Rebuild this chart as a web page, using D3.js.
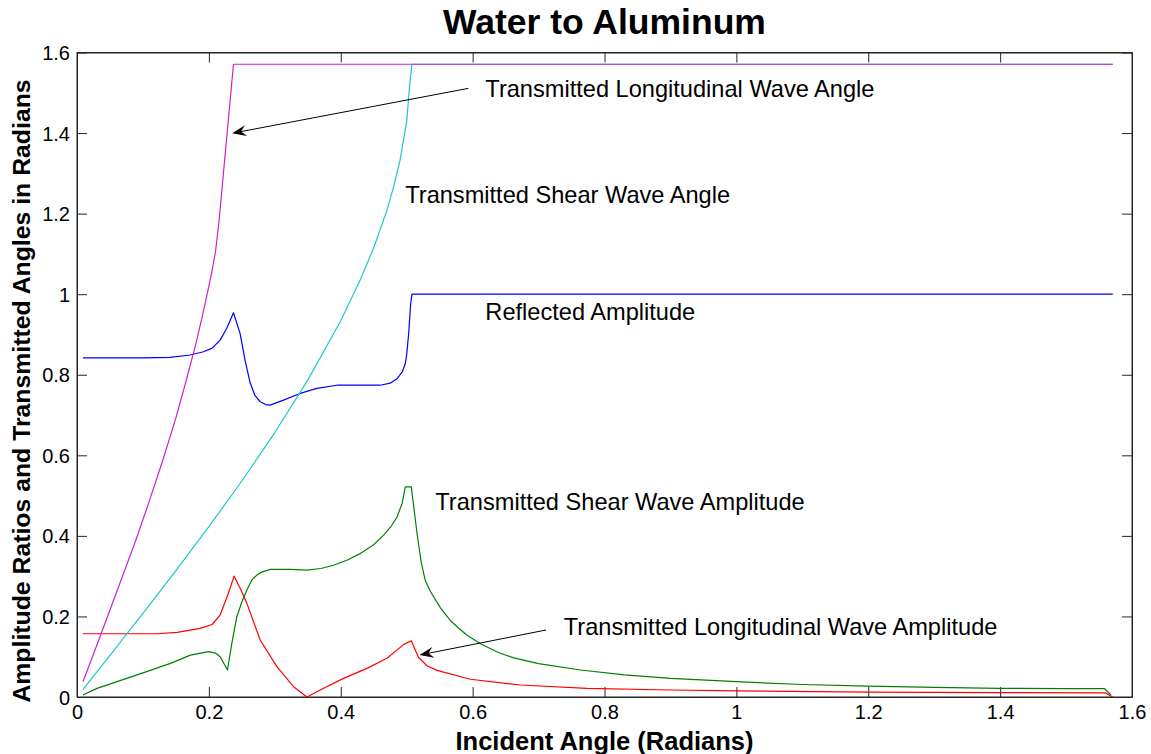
<!DOCTYPE html>
<html>
<head>
<meta charset="utf-8">
<script src="https://cdn.jsdelivr.net/npm/d3@7"></script>
<style>
  html, body { margin: 0; padding: 0; background: #fff; }
  svg { display: block; font-family: "Liberation Sans", Arial, sans-serif; }
</style>
</head>
<body>
<svg id="chart" width="1151" height="754"></svg>
<script>
// Water-to-aluminum interface: incident angle (rad) vs. amplitude ratios and transmitted angles.
const xTicks = [0, 0.2, 0.4, 0.6, 0.8, 1, 1.2, 1.4, 1.6];
const yTicks = [0, 0.2, 0.4, 0.6, 0.8, 1, 1.2, 1.4, 1.6];

// Transmitted longitudinal wave angle (magenta)
const longAngle = [
  [0.009, 0.038], [0.02, 0.085], [0.035, 0.150], [0.05, 0.216], [0.07, 0.304],
  [0.09, 0.393], [0.11, 0.488], [0.13, 0.587], [0.15, 0.693], [0.165, 0.782],
  [0.18, 0.875], [0.19, 0.945], [0.20, 1.020], [0.205, 1.060], [0.21, 1.105],
  [0.215, 1.175], [0.2373, 1.5708], [1.5708, 1.5708]
];

// Transmitted shear wave angle (cyan)
const shearAngle = [
  [0.009, 0.0186], [0.05, 0.1034], [0.10, 0.2077], [0.15, 0.3137], [0.20, 0.4227],
  [0.25, 0.5362], [0.30, 0.6565], [0.35, 0.7867], [0.40, 0.9340], [0.43, 1.0372],
  [0.45, 1.1153], [0.47, 1.2081], [0.48, 1.2658], [0.49, 1.3326], [0.50, 1.4291],
  [0.505, 1.528], [0.508, 1.5708], [1.5708, 1.5708]
];

// Reflected amplitude (blue)
const reflectedAmp = [
  [0.009, 0.842], [0.10, 0.842], [0.141, 0.843], [0.1715, 0.849], [0.1918, 0.857],
  [0.205, 0.866], [0.217, 0.886], [0.227, 0.915], [0.2373, 0.954], [0.2474, 0.902],
  [0.255, 0.835], [0.2626, 0.780], [0.270, 0.748], [0.278, 0.733], [0.286, 0.726],
  [0.293, 0.7246], [0.3132, 0.737], [0.3385, 0.7536], [0.3638, 0.766], [0.394, 0.774],
  [0.46, 0.774], [0.475, 0.779], [0.4853, 0.790], [0.4935, 0.808], [0.4979, 0.828],
  [0.50, 0.850], [0.503, 0.9025], [0.506, 0.975], [0.508, 1.0], [1.5708, 1.0]
];

// Transmitted longitudinal wave amplitude (red)
const longAmp = [
  [0.009, 0.157], [0.121, 0.157], [0.152, 0.1605], [0.1867, 0.1704], [0.205, 0.180],
  [0.217, 0.2035], [0.228, 0.250], [0.2383, 0.300], [0.248, 0.268], [0.2576, 0.2325],
  [0.2778, 0.1414], [0.3031, 0.0753], [0.3284, 0.0256], [0.3487, 0.0], [0.374, 0.0215],
  [0.4043, 0.0463], [0.4397, 0.0711], [0.4701, 0.096], [0.4953, 0.130], [0.507, 0.1397],
  [0.518, 0.098], [0.531, 0.0769], [0.546, 0.066], [0.5966, 0.044], [0.6725, 0.0298],
  [0.7737, 0.0215], [0.90, 0.0174], [1.0, 0.015], [1.2, 0.012], [1.4, 0.011],
  [1.56, 0.010], [1.565, 0.005], [1.5708, 0.0]
];

// Transmitted shear wave amplitude (green)
const shearAmp = [
  [0.009, 0.005], [0.0304, 0.0215], [0.0607, 0.038], [0.1012, 0.0604], [0.1417, 0.0836],
  [0.172, 0.104], [0.1993, 0.1125], [0.21, 0.109], [0.217, 0.100], [0.2282, 0.067],
  [0.235, 0.135], [0.2424, 0.1993], [0.25, 0.236], [0.2576, 0.2655], [0.265, 0.290],
  [0.2728, 0.3027], [0.28, 0.310], [0.293, 0.3168], [0.3233, 0.3168], [0.3487, 0.315],
  [0.37, 0.319], [0.389, 0.327], [0.41, 0.340], [0.4296, 0.356], [0.45, 0.378],
  [0.465, 0.402], [0.477, 0.425], [0.4853, 0.447], [0.493, 0.480], [0.4979, 0.5218],
  [0.507, 0.5218], [0.5157, 0.406], [0.522, 0.335], [0.528, 0.290], [0.536, 0.262],
  [0.551, 0.222], [0.566, 0.190], [0.59, 0.155], [0.6118, 0.132], [0.64, 0.110],
  [0.6623, 0.097], [0.70, 0.083], [0.7636, 0.067], [0.83, 0.055], [0.90, 0.046],
  [1.0, 0.038], [1.1, 0.031], [1.2, 0.027], [1.3, 0.024], [1.4, 0.0215],
  [1.5, 0.021], [1.558, 0.021], [1.568, 0.005]
];

const seriesList = [
  { name: "reflected", data: reflectedAmp, color: "#0000ff" },
  { name: "shearAmp", data: shearAmp, color: "#008000" },
  { name: "longAmp", data: longAmp, color: "#ff0000" },
  { name: "shearAngle", data: shearAngle, color: "#1fc8c8" },
  { name: "longAngle", data: longAngle, color: "#cc22cc" }
];

// Text annotations: [label, x, y] in data units (text anchored at left, vertically centred)
const labels = [
  ["Transmitted Longitudinal Wave Angle", 0.6193, 1.511],
  ["Transmitted Shear Wave Angle", 0.4978, 1.246],
  ["Reflected Amplitude", 0.6193, 0.956],
  ["Transmitted Shear Wave Amplitude", 0.5434, 0.484],
  ["Transmitted Longitudinal Wave Amplitude", 0.7382, 0.174]
];

// Arrows: [tailX, tailY, headX, headY] in data units
const arrows = [
  [0.5935, 1.511, 0.2353, 1.3995],
  [0.7113, 0.1663, 0.5196, 0.1042]
];

const margin = { left: 77, right: 19, top: 52.5, bottom: 57 };
const W = 1151, H = 754;
const svg = d3.select("#chart");

const x = d3.scaleLinear().domain([0, 1.6]).range([margin.left, W - margin.right]);
const y = d3.scaleLinear().domain([0, 1.6]).range([H - margin.bottom, margin.top]);

const axisColor = "#262626";
const tickLen = 10;

// Plot box
svg.append("rect")
  .attr("x", x(0)).attr("y", y(1.6))
  .attr("width", x(1.6) - x(0)).attr("height", y(0) - y(1.6))
  .attr("fill", "#fff").attr("stroke", axisColor).attr("stroke-width", 1);

// Axes with inward ticks on all four sides
const fmt = d => String(d);
const axisB = svg.append("g").attr("transform", `translate(0,${y(0)})`)
  .call(d3.axisBottom(x).tickValues(xTicks).tickFormat(fmt).tickSizeInner(-tickLen).tickSizeOuter(0).tickPadding(8));
const axisT = svg.append("g").attr("transform", `translate(0,${y(1.6)})`)
  .call(d3.axisTop(x).tickValues(xTicks).tickFormat("").tickSizeInner(-tickLen).tickSizeOuter(0));
const axisL = svg.append("g").attr("transform", `translate(${x(0)},0)`)
  .call(d3.axisLeft(y).tickValues(yTicks).tickFormat(fmt).tickSizeInner(-tickLen).tickSizeOuter(0).tickPadding(7));
const axisR = svg.append("g").attr("transform", `translate(${x(1.6)},0)`)
  .call(d3.axisRight(y).tickValues(yTicks).tickFormat("").tickSizeInner(-tickLen).tickSizeOuter(0));

[axisB, axisT, axisL, axisR].forEach(g => {
  g.select(".domain").attr("stroke", axisColor);
  g.selectAll(".tick line").attr("stroke", axisColor);
  g.selectAll(".tick text").attr("fill", "#000")
    .style("font-size", "20px").style("font-family", "'Liberation Sans', Arial, sans-serif");
});
axisB.selectAll(".tick text").attr("dy", "0.71em");
axisL.selectAll(".tick text").attr("dy", "0.35em");

// Curves
const line = d3.line().x(d => x(d[0])).y(d => y(d[1]));
svg.append("g").selectAll("path").data(seriesList).join("path")
  .attr("d", s => line(s.data))
  .attr("fill", "none")
  .attr("stroke", s => s.color)
  .attr("stroke-width", 1.2)
  .attr("stroke-linejoin", "round");

// Annotation text
svg.append("g").selectAll("text").data(labels).join("text")
  .attr("x", d => x(d[1])).attr("y", d => y(d[2]))
  .attr("dy", "0.35em")
  .style("font-size", "23.6px")
  .attr("fill", "#000")
  .text(d => d[0]);

// Annotation arrows with swept-back heads
const arrowG = svg.append("g");
arrows.forEach(a => {
  const x1 = x(a[0]), y1 = y(a[1]), x2 = x(a[2]), y2 = y(a[3]);
  const ang = Math.atan2(y2 - y1, x2 - x1);
  const len = 14, half = 5.5, back = 9;
  const bx = x2 - back * Math.cos(ang), by = y2 - back * Math.sin(ang);
  arrowG.append("line")
    .attr("x1", x1).attr("y1", y1).attr("x2", bx).attr("y2", by)
    .attr("stroke", "#000").attr("stroke-width", 1);
  const px = -Math.sin(ang), py = Math.cos(ang);
  const ex = x2 - len * Math.cos(ang), ey = y2 - len * Math.sin(ang);
  const pts = [
    [x2, y2],
    [ex + half * px, ey + half * py],
    [bx, by],
    [ex - half * px, ey - half * py]
  ];
  arrowG.append("path")
    .attr("d", "M" + pts.map(p => p.join(",")).join("L") + "Z")
    .attr("fill", "#000");
});

// Titles
svg.append("text")
  .attr("x", (x(0) + x(1.6)) / 2).attr("y", 34)
  .attr("text-anchor", "middle")
  .style("font-size", "35.5px").style("font-weight", "bold")
  .text("Water to Aluminum");

svg.append("text")
  .attr("x", (x(0) + x(1.6)) / 2).attr("y", 750)
  .attr("text-anchor", "middle")
  .style("font-size", "25.5px").style("font-weight", "bold")
  .text("Incident Angle (Radians)");

svg.append("text")
  .attr("transform", `translate(30,391) rotate(-90)`)
  .attr("text-anchor", "middle")
  .style("font-size", "24.8px").style("font-weight", "bold")
  .text("Amplitude Ratios and Transmitted Angles in Radians");
</script>
</body>
</html>
